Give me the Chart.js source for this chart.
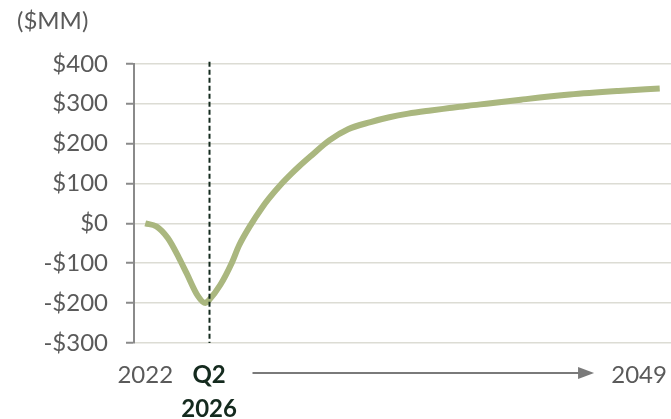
<!DOCTYPE html>
<html>
<head>
<meta charset="utf-8">
<script src="https://cdn.jsdelivr.net/npm/chart.js@4"></script>
<style>
  body { margin: 0; background: #fff; }
  #wrap { width: 671px; height: 419px; }
</style>
</head>
<body>
<div id="wrap"><canvas id="chart"></canvas></div>
<script>
// Data (x = quarters since start of 2022)
const quarters = [0, 3, 6, 9, 11, 14, 16, 17, 20, 23, 25, 28, 31, 33, 36, 39, 41, 44, 49, 54, 60, 65, 70, 76, 81, 86, 92, 100, 113, 126, 137];
const cashFlow = [0, -8, -37, -87, -125, -182, -200, -192, -154, -100, -55, -5, 38, 63, 96, 125, 143, 168, 208, 236, 254, 266, 275, 283, 289, 295, 301, 310, 323, 332, 338];

const xTickValues = [0, 17, 131.5];
const xTickLabels = ['2022', ['Q2', '2026'], '2049'];
const markerQuarter = 17;

const lineColor = '#aab77f';
const darkGreen = '#142a1e';
const grayText = '#5a5a5a';
const fontName = 'Lato';

// Dashed marker line + arrow
const annotations = {
    id: 'annotations',
    afterDatasetsDraw(chart) {
        const ctx = chart.ctx;
        const x = chart.scales.x;
        const area = chart.chartArea;
        const mx = Math.round(x.getPixelForValue(markerQuarter)) + 0.5;

        ctx.save();
        ctx.strokeStyle = darkGreen;
        ctx.lineWidth = 2;
        ctx.setLineDash([5, 3]);
        ctx.beginPath();
        ctx.moveTo(mx, area.top - 2);
        ctx.lineTo(mx, area.bottom);
        ctx.stroke();

        // arrow between Q2 and 2049
        const y = area.bottom + 30;
        const x0 = mx + 43;
        const x1 = x.getPixelForValue(xTickValues[2]) - 45;
        ctx.setLineDash([]);
        ctx.strokeStyle = '#7a7a7a';
        ctx.fillStyle = '#7a7a7a';
        ctx.lineWidth = 2;
        ctx.beginPath();
        ctx.moveTo(x0, y);
        ctx.lineTo(x1 - 14, y);
        ctx.stroke();
        ctx.beginPath();
        ctx.moveTo(x1, y);
        ctx.lineTo(x1 - 16, y - 6);
        ctx.lineTo(x1 - 16, y + 6);
        ctx.closePath();
        ctx.fill();
        ctx.restore();
    }
};

const ctx = document.getElementById('chart').getContext('2d');
new Chart(ctx, {
    type: 'line',
    data: {
        datasets: [{
            data: quarters.map((q, i) => ({ x: q, y: cashFlow[i] })),
            borderColor: lineColor,
            borderWidth: 6,
            pointRadius: 0,
            fill: false,
            cubicInterpolationMode: 'monotone'
        }]
    },
    options: {
        responsive: true,
        maintainAspectRatio: false,
        animation: false,
        layout: { padding: { left: 17, right: 0, top: 0, bottom: 0 } },
        plugins: {
            legend: { display: false },
            tooltip: { enabled: false },
            title: {
                display: true,
                text: '($MM)',
                align: 'start',
                color: grayText,
                font: { family: fontName, size: 24, weight: 'normal' },
                padding: { top: 7, bottom: 28 }
            }
        },
        scales: {
            x: {
                type: 'linear',
                min: -3,
                max: 140,
                grid: { display: false },
                border: { display: false },
                afterBuildTicks: scale => {
                    scale.ticks = xTickValues.map(v => ({ value: v }));
                },
                afterFit: scale => {
                    scale.height = 76;
                    scale.paddingLeft = 0;
                    scale.paddingRight = 0;
                },
                ticks: {
                    autoSkip: false,
                    maxRotation: 0,
                    padding: 7,
                    callback: value => xTickLabels[xTickValues.indexOf(value)],
                    color: c => c.index === 1 ? darkGreen : grayText,
                    font: c => ({
                        family: fontName,
                        size: 24,
                        weight: c.index === 1 ? 'bold' : 'normal',
                        lineHeight: 1.42
                    })
                }
            },
            y: {
                min: -300,
                max: 400,
                afterFit: scale => { scale.width = 117; },
                grid: {
                    color: '#dcdcd4',
                    lineWidth: 1.5,
                    tickColor: '#8a8a8a',
                    tickWidth: 2,
                    tickLength: 8
                },
                border: { display: true, color: '#8a8a8a', width: 2 },
                ticks: {
                    stepSize: 100,
                    padding: 18,
                    color: grayText,
                    font: { family: fontName, size: 24 },
                    callback: v => (v < 0 ? '-$' + Math.abs(v) : '$' + v)
                }
            }
        }
    },
    plugins: [annotations]
});
</script>
</body>
</html>
